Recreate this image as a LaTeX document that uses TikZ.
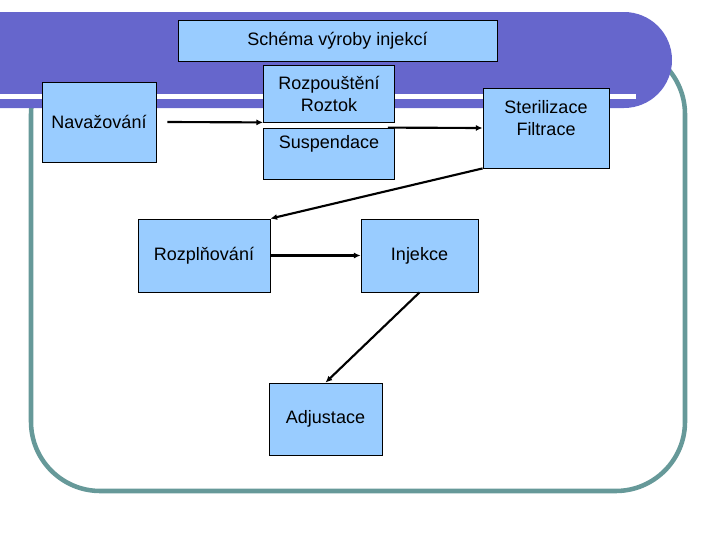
\documentclass[tikz,border=0pt]{standalone}
\usepackage{fontspec}
\setmainfont{Liberation Sans}
\usepackage{tikz}
\usetikzlibrary{arrows.meta, calc}
\pgfdeclarelayer{background}
\pgfsetlayers{background,main}

\definecolor{bandBlue}{HTML}{6666CC}
\definecolor{boxBlue}{HTML}{99CCFF}
\definecolor{frameTeal}{HTML}{669999}

\begin{document}
\begin{tikzpicture}[x=0.75pt, y=-0.75pt, font=\fontsize{13.5}{16.5}\selectfont]

    \useasboundingbox (0,0) rectangle (720,540);

    % Process steps
    \tikzset{sB/.style={draw=black, fill=boxBlue, line width=0.6pt, inner sep=2pt, align=center}}
    \tikzset{tB/.style={sB, label={[align=center, yshift=7.5pt]center:#1}}}

    % Connectors
    \tikzset{pA/.style={draw=black, line width=1.6pt, -{Latex[length=5pt, width=4.5pt]}}}

    % Step nodes
    \node (title) [sB, minimum width=239.25pt, minimum height=30.75pt] at (337.5, 40.5) {Schéma výroby injekcí};
    \node (nav) [sB, minimum width=85.5pt, minimum height=60pt] at (99, 122) {Navažování};
    	\node (rozp) [sB, minimum width=98.25pt, minimum height=42.75pt] at (329, 93.5) {Rozpouštění\\Roztok};
    	\node (susp) [tB={Suspendace}, minimum width=98.25pt, minimum height=38.25pt] at (329, 153.5) {};
    		\node (ster) [tB={Sterilizace\\Filtrace}, minimum width=94.5pt, minimum height=60pt] at (546, 128) {};
    			\node (rozpl) [sB, minimum width=99pt, minimum height=54.75pt] at (204, 255.5) {Rozplňování};
    			\node (inj) [sB, minimum width=87.75pt, minimum height=54.75pt] at (419.5, 255.5) {Injekce};
    				\node (adj) [sB, minimum width=84.75pt, minimum height=54pt] at (325.5, 419) {Adjustace};

    % Flow
    \path[pA] ($(nav.east)+(11,0)$) -- (rozp.south west);
    \path[pA] ($(susp.north east)+(-7,0)$) -- (ster.west);
    \path[pA] (ster.south west) -- (rozpl.north east);
    \path[pA] (rozpl.east) -- (inj.west);
    \path[pA] (inj.south) -- (adj.north);

    % Slide background
    \begin{pgfonlayer}{background}

    	% Frame
    	\draw[frameTeal, line width=3.4pt, rounded corners=52] (31, 45) rectangle (685, 491);

    	% Title band
    	\fill[bandBlue] (0, 12) -- (624, 12) arc[start angle=-90, end angle=90, radius=48] -- (0, 108) -- cycle;
    	\fill[white] (0, 93.5) rectangle (636, 98.5);

    \end{pgfonlayer}

\end{tikzpicture}
\end{document}
